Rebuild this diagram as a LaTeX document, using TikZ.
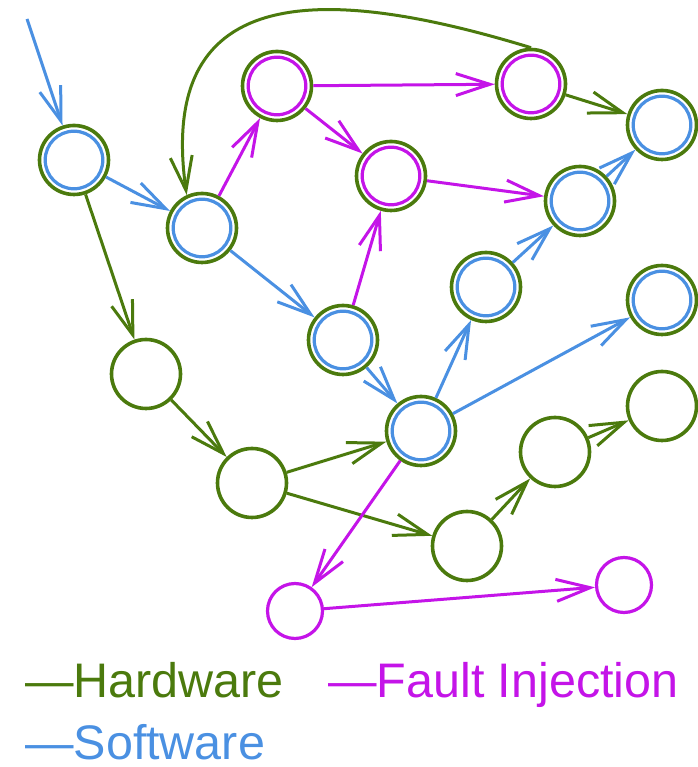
\documentclass[tikz,border=0pt]{standalone}
\usepackage{fontspec}
\setmainfont{Liberation Sans}
\usetikzlibrary{arrows.meta}

\definecolor{hwgreen}{HTML}{4B7A0D}
\definecolor{swblue}{HTML}{4A90E2}
\definecolor{fimag}{HTML}{C414E8}

\begin{document}
\begin{tikzpicture}[x=1pt,y=1pt,
  hw/.style={circle, draw=hwgreen, line width=3.6pt, minimum size=69pt, inner sep=0pt},
  dbl/.style={hw, path picture={\draw[line width=3.2pt,#1]
      (path picture bounding box.center) circle (28.8pt);}},
  sw/.style={dbl=swblue},
  fi/.style={dbl=fimag},
  fisingle/.style={circle, draw=fimag, line width=3.2pt, minimum size=55pt, inner sep=0pt},
  edge/.style={line width=3pt, -{Straight Barb[length=34pt,width=22pt]}},
  hwedge/.style={edge, draw=hwgreen},
  swedge/.style={edge, draw=swblue},
  fiedge/.style={edge, draw=fimag},
  legend/.style={anchor=base west, inner sep=0pt, text depth=0pt,
    font=\fontsize{48.5}{52}\selectfont}]

\useasboundingbox (0,0) rectangle (697,767);

% states
\node[sw] (A) at (74,607) {};
\node[sw] (B) at (202,539) {};
\node[fi] (C) at (277,681) {};
\node[fi] (D) at (531,683) {};
\node[fi] (E) at (391,591) {};
\node[sw] (F) at (662,642) {};
\node[sw] (G) at (580,566) {};
\node[sw] (H) at (486,480) {};
\node[sw] (I) at (343,427) {};
\node[sw] (J) at (421,336) {};
\node[sw] (K) at (662,467) {};
\node[hw] (L) at (146,393) {};
\node[hw] (M) at (252,284) {};
\node[hw] (N) at (662,361) {};
\node[hw] (O) at (555,315) {};
\node[hw] (P) at (467,221) {};
\node[fisingle] (Q) at (295,156) {};
\node[fisingle] (R) at (624,182) {};
\coordinate (entry) at (27,748);

% software transitions
\draw[swedge] (entry) -- (A);
\draw[swedge] (A) -- (B);
\draw[swedge] (B) -- (I);
\draw[swedge] (I) -- (J);
\draw[swedge] (J) -- (H);
\draw[swedge] (H) -- (G);
\draw[swedge] (G) -- (F);
\draw[swedge] (J) -- (K);

% hardware transitions
\draw[hwedge] (A) -- (L);
\draw[hwedge] (L) -- (M);
\draw[hwedge] (M) -- (J);
\draw[hwedge] (M) -- (P);
\draw[hwedge] (P) -- (O);
\draw[hwedge] (O) -- (N);
\draw[hwedge] (D) -- (F);
\draw[hwedge] (D.north) .. controls +(163:210) and +(98:220) .. (B.115);

% fault injection transitions
\draw[fiedge] (B) -- (C);
\draw[fiedge] (C) -- (D);
\draw[fiedge] (C) -- (E);
\draw[fiedge] (I) -- (E);
\draw[fiedge] (E) -- (G);
\draw[fiedge] (J) -- (Q);
\draw[fiedge] (Q) -- (R);

% legend
\node[legend, text=hwgreen] (lhw) at (25,69) {—Hardware};
\node[legend, text=fimag] (lfi) at (328,69) {—Fault Injection};
\node[legend, text=swblue] (lsw) at (25,7) {—Software};
\end{tikzpicture}
\end{document}
